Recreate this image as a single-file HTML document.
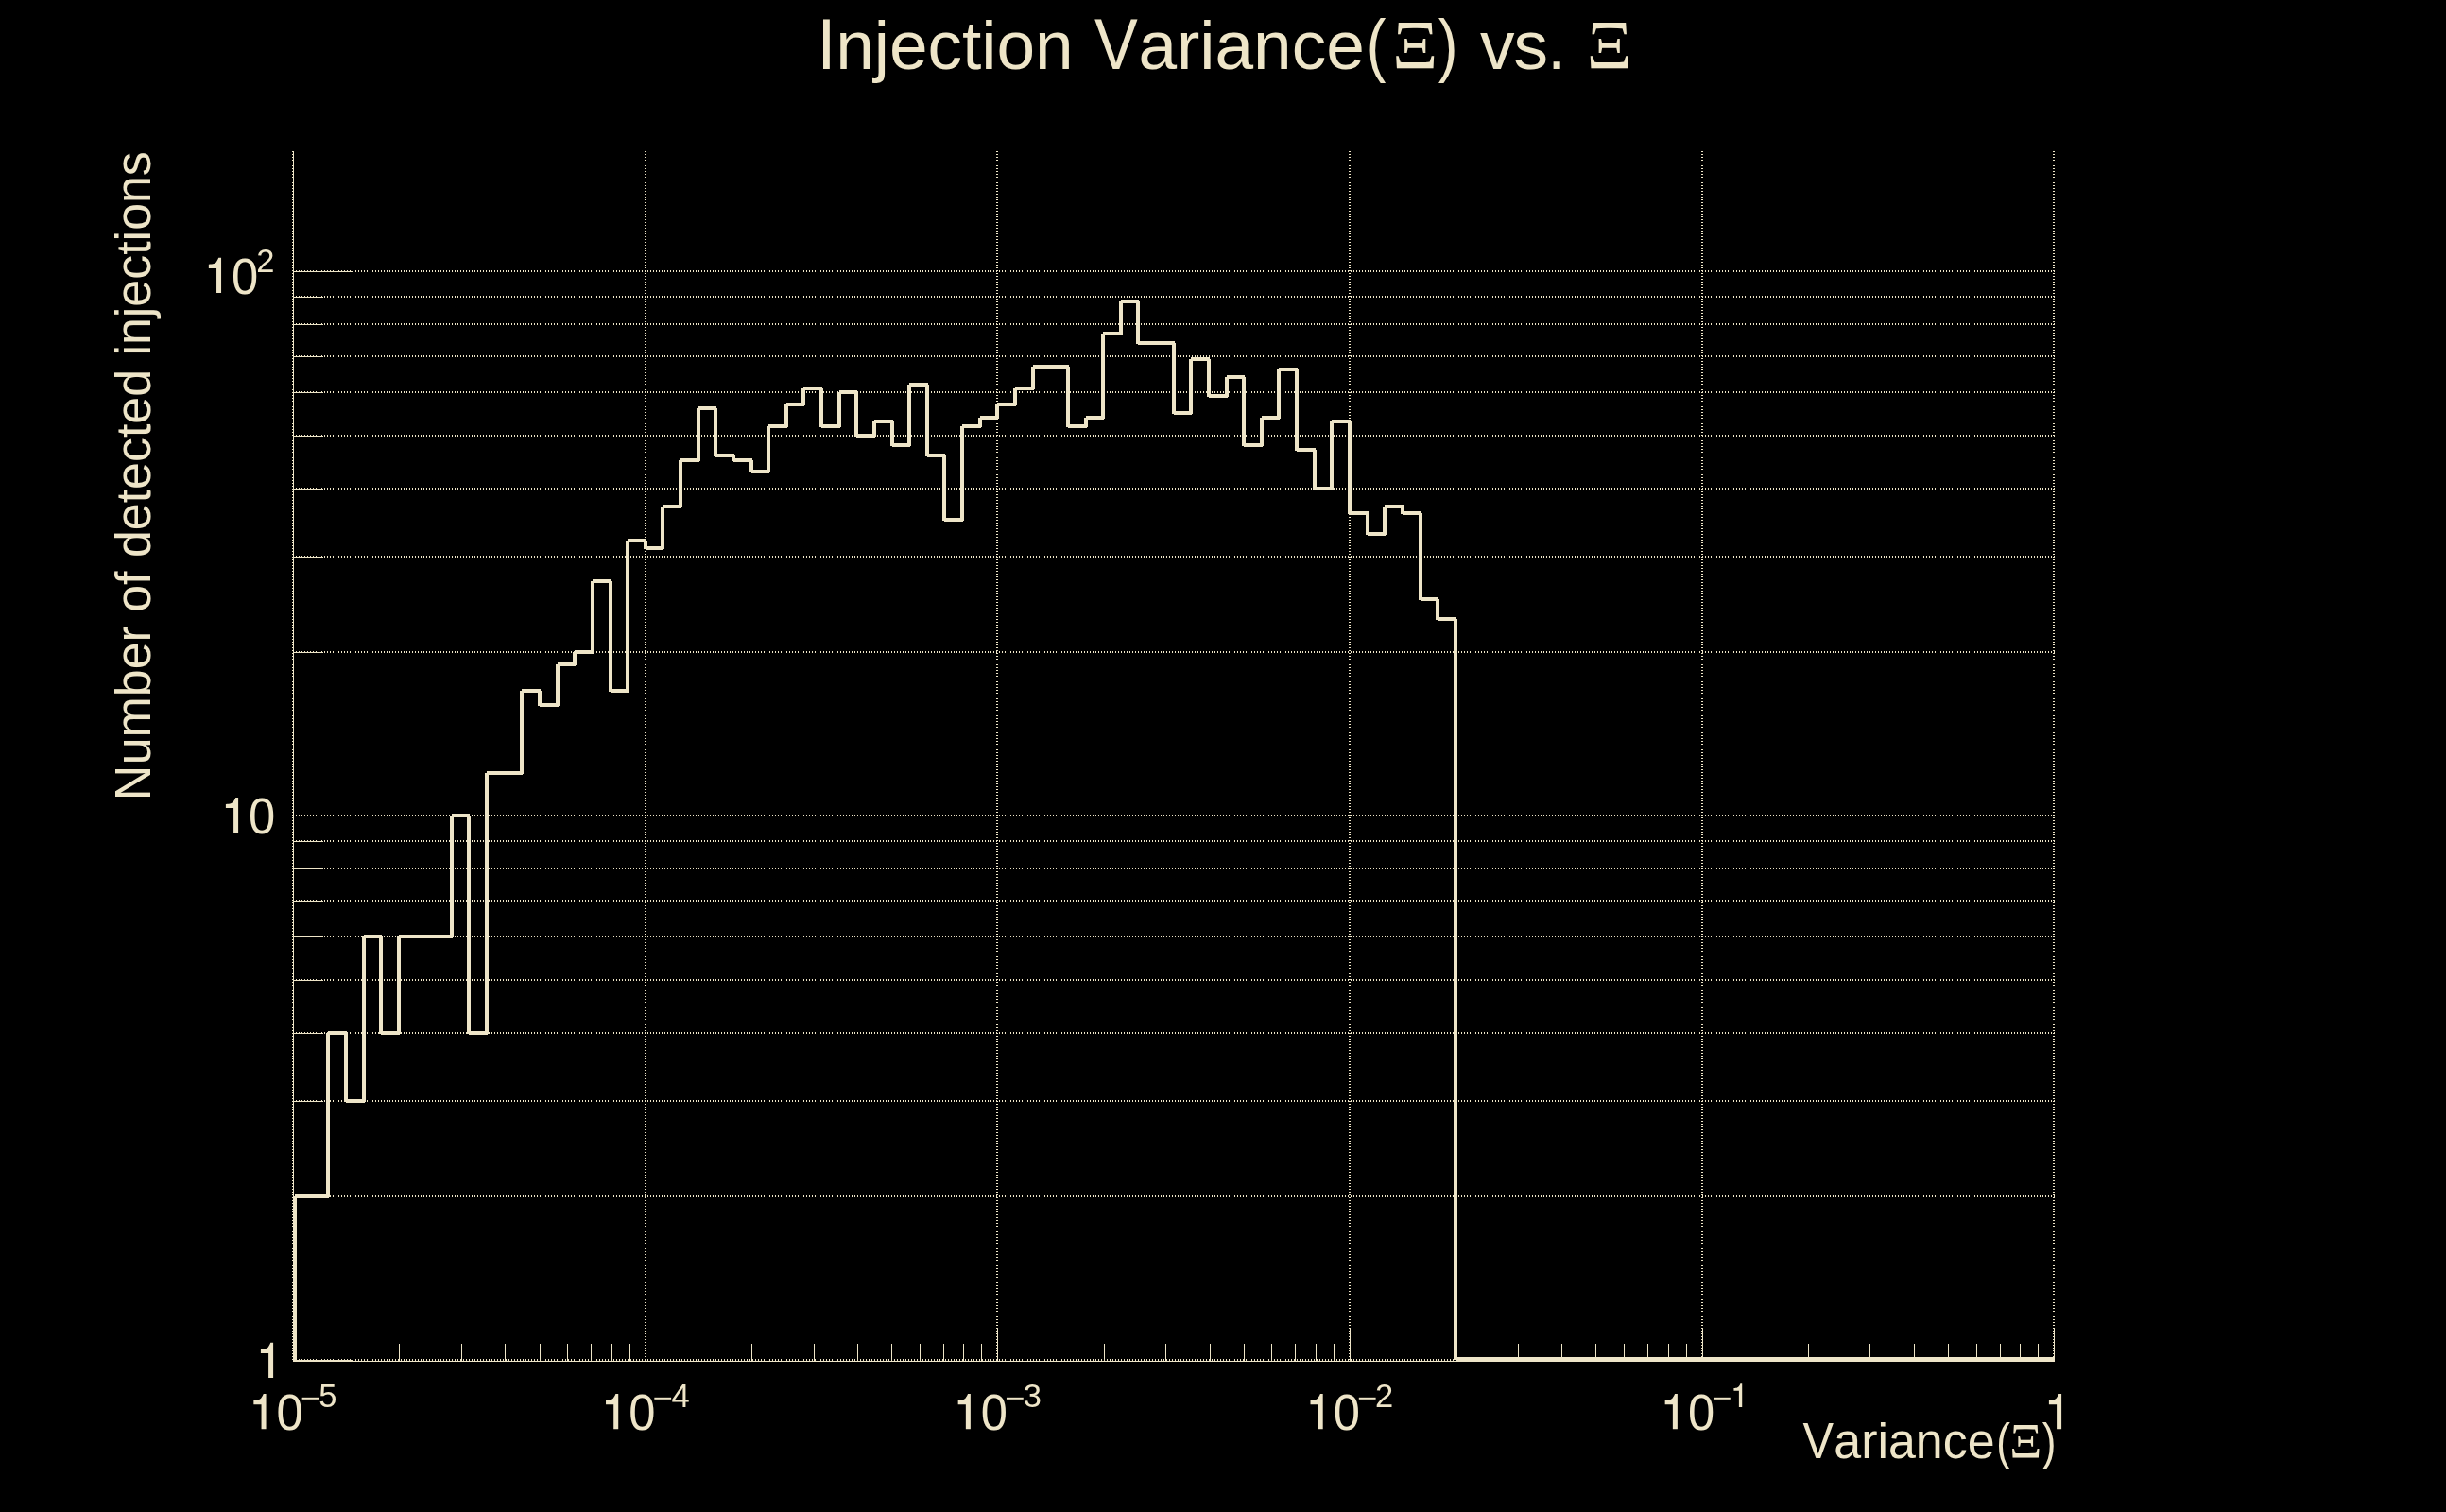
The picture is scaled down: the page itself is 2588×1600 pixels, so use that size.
<!DOCTYPE html><html><head><meta charset="utf-8"><title>Injection Variance</title>
<style>html,body{margin:0;padding:0;background:#000;overflow:hidden}svg{display:block}text{font-kerning:none;font-family:"Liberation Sans",sans-serif;fill:#efe6c9}.g{fill:#efe6c9}.s{font-family:"Liberation Serif",serif}</style></head><body>
<svg width="2588" height="1600" viewBox="0 0 2588 1600">
<rect width="2588" height="1600" fill="#000"/>
<g stroke="#eee5c8" stroke-width="2" stroke-dasharray="1 2" shape-rendering="crispEdges" fill="none">
<line x1="310" y1="1439" x2="2174" y2="1439"/>
<line x1="310" y1="1266" x2="2174" y2="1266"/>
<line x1="310" y1="1165" x2="2174" y2="1165"/>
<line x1="310" y1="1093" x2="2174" y2="1093"/>
<line x1="310" y1="1037" x2="2174" y2="1037"/>
<line x1="310" y1="991" x2="2174" y2="991"/>
<line x1="310" y1="953" x2="2174" y2="953"/>
<line x1="310" y1="919" x2="2174" y2="919"/>
<line x1="310" y1="890" x2="2174" y2="890"/>
<line x1="310" y1="863" x2="2174" y2="863"/>
<line x1="310" y1="690" x2="2174" y2="690"/>
<line x1="310" y1="589" x2="2174" y2="589"/>
<line x1="310" y1="517" x2="2174" y2="517"/>
<line x1="310" y1="461" x2="2174" y2="461"/>
<line x1="310" y1="415" x2="2174" y2="415"/>
<line x1="310" y1="377" x2="2174" y2="377"/>
<line x1="310" y1="343" x2="2174" y2="343"/>
<line x1="310" y1="314" x2="2174" y2="314"/>
<line x1="310" y1="287" x2="2174" y2="287"/>
<line x1="310" y1="160" x2="310" y2="1441"/>
<line x1="683" y1="160" x2="683" y2="1441"/>
<line x1="1055" y1="160" x2="1055" y2="1441"/>
<line x1="1428" y1="160" x2="1428" y2="1441"/>
<line x1="1801" y1="160" x2="1801" y2="1441"/>
<line x1="2173" y1="160" x2="2173" y2="1441"/>
</g>
<g stroke="#eee5c8" stroke-width="1" shape-rendering="crispEdges" fill="none">
<line x1="310.5" y1="160" x2="310.5" y2="1441"/>
<line x1="310" y1="1440.5" x2="2174" y2="1440.5"/>
<line x1="310" y1="1439.5" x2="374" y2="1439.5"/>
<line x1="310" y1="1266.5" x2="342" y2="1266.5"/>
<line x1="310" y1="1165.5" x2="342" y2="1165.5"/>
<line x1="310" y1="1093.5" x2="342" y2="1093.5"/>
<line x1="310" y1="1037.5" x2="342" y2="1037.5"/>
<line x1="310" y1="991.5" x2="342" y2="991.5"/>
<line x1="310" y1="953.5" x2="342" y2="953.5"/>
<line x1="310" y1="919.5" x2="342" y2="919.5"/>
<line x1="310" y1="890.5" x2="342" y2="890.5"/>
<line x1="310" y1="863.5" x2="374" y2="863.5"/>
<line x1="310" y1="690.5" x2="342" y2="690.5"/>
<line x1="310" y1="589.5" x2="342" y2="589.5"/>
<line x1="310" y1="517.5" x2="342" y2="517.5"/>
<line x1="310" y1="461.5" x2="342" y2="461.5"/>
<line x1="310" y1="415.5" x2="342" y2="415.5"/>
<line x1="310" y1="377.5" x2="342" y2="377.5"/>
<line x1="310" y1="343.5" x2="342" y2="343.5"/>
<line x1="310" y1="314.5" x2="342" y2="314.5"/>
<line x1="310" y1="287.5" x2="374" y2="287.5"/>
<line x1="310.5" y1="1405" x2="310.5" y2="1441"/>
<line x1="422.5" y1="1422" x2="422.5" y2="1441"/>
<line x1="488.5" y1="1422" x2="488.5" y2="1441"/>
<line x1="534.5" y1="1422" x2="534.5" y2="1441"/>
<line x1="571.5" y1="1422" x2="571.5" y2="1441"/>
<line x1="600.5" y1="1422" x2="600.5" y2="1441"/>
<line x1="625.5" y1="1422" x2="625.5" y2="1441"/>
<line x1="647.5" y1="1422" x2="647.5" y2="1441"/>
<line x1="666.5" y1="1422" x2="666.5" y2="1441"/>
<line x1="683.5" y1="1405" x2="683.5" y2="1441"/>
<line x1="795.5" y1="1422" x2="795.5" y2="1441"/>
<line x1="861.5" y1="1422" x2="861.5" y2="1441"/>
<line x1="907.5" y1="1422" x2="907.5" y2="1441"/>
<line x1="943.5" y1="1422" x2="943.5" y2="1441"/>
<line x1="973.5" y1="1422" x2="973.5" y2="1441"/>
<line x1="998.5" y1="1422" x2="998.5" y2="1441"/>
<line x1="1019.5" y1="1422" x2="1019.5" y2="1441"/>
<line x1="1038.5" y1="1422" x2="1038.5" y2="1441"/>
<line x1="1055.5" y1="1405" x2="1055.5" y2="1441"/>
<line x1="1168.5" y1="1422" x2="1168.5" y2="1441"/>
<line x1="1233.5" y1="1422" x2="1233.5" y2="1441"/>
<line x1="1280.5" y1="1422" x2="1280.5" y2="1441"/>
<line x1="1316.5" y1="1422" x2="1316.5" y2="1441"/>
<line x1="1345.5" y1="1422" x2="1345.5" y2="1441"/>
<line x1="1370.5" y1="1422" x2="1370.5" y2="1441"/>
<line x1="1392.5" y1="1422" x2="1392.5" y2="1441"/>
<line x1="1411.5" y1="1422" x2="1411.5" y2="1441"/>
<line x1="1428.5" y1="1405" x2="1428.5" y2="1441"/>
<line x1="1540.5" y1="1422" x2="1540.5" y2="1441"/>
<line x1="1606.5" y1="1422" x2="1606.5" y2="1441"/>
<line x1="1652.5" y1="1422" x2="1652.5" y2="1441"/>
<line x1="1688.5" y1="1422" x2="1688.5" y2="1441"/>
<line x1="1718.5" y1="1422" x2="1718.5" y2="1441"/>
<line x1="1743.5" y1="1422" x2="1743.5" y2="1441"/>
<line x1="1765.5" y1="1422" x2="1765.5" y2="1441"/>
<line x1="1784.5" y1="1422" x2="1784.5" y2="1441"/>
<line x1="1801.5" y1="1405" x2="1801.5" y2="1441"/>
<line x1="1913.5" y1="1422" x2="1913.5" y2="1441"/>
<line x1="1978.5" y1="1422" x2="1978.5" y2="1441"/>
<line x1="2025.5" y1="1422" x2="2025.5" y2="1441"/>
<line x1="2061.5" y1="1422" x2="2061.5" y2="1441"/>
<line x1="2091.5" y1="1422" x2="2091.5" y2="1441"/>
<line x1="2116.5" y1="1422" x2="2116.5" y2="1441"/>
<line x1="2137.5" y1="1422" x2="2137.5" y2="1441"/>
<line x1="2156.5" y1="1422" x2="2156.5" y2="1441"/>
<line x1="2173.5" y1="1405" x2="2173.5" y2="1441"/>
</g>
<path d="M312,1441V1266M312,1266H330M329,1266V1267M329,1266H348M347,1093V1267M347,1093H367M366,1093V1166M366,1165H386M385,991V1166M385,991H404M403,991V1094M403,1093H423M422,991V1094M422,991H442M441,991V992M441,991H460M459,991V992M459,991H479M478,863V992M478,863H497M496,863V1094M496,1093H516M515,818V1094M515,818H535M534,818V819M534,818H553M552,731V819M552,731H572M571,731V747M571,746H591M590,703V747M590,703H609M608,690V704M608,690H628M627,615V691M627,615H647M646,615V732M646,731H665M664,572V732M664,572H684M683,572V581M683,580H702M701,536V581M701,536H721M720,487V537M720,487H740M739,432V488M739,432H758M757,432V483M757,482H777M776,482V488M776,487H796M795,487V500M795,499H814M813,451V500M813,451H833M832,428V452M832,428H851M850,411V429M850,411H870M869,411V452M869,451H889M888,415V452M888,415H907M906,415V462M906,461H926M925,446V462M925,446H945M944,446V472M944,471H963M962,407V472M962,407H982M981,407V483M981,482H1000M999,482V551M999,550H1019M1018,451V551M1018,451H1038M1037,442V452M1037,442H1056M1055,428V443M1055,428H1075M1074,411V429M1074,411H1094M1093,388V412M1093,388H1112M1111,388V389M1111,388H1131M1130,388V452M1130,451H1150M1149,442V452M1149,442H1168M1167,353V443M1167,353H1187M1186,319V354M1186,319H1205M1204,319V364M1204,363H1224M1223,363V364M1223,363H1243M1242,363V438M1242,437H1261M1260,380V438M1260,380H1280M1279,380V420M1279,419H1299M1298,399V420M1298,399H1317M1316,399V472M1316,471H1336M1335,442V472M1335,442H1354M1353,391V443M1353,391H1373M1372,391V477M1372,476H1392M1391,476V518M1391,517H1410M1409,446V518M1409,446H1429M1428,446V544M1428,543H1448M1447,543V566M1447,565H1466M1465,536V566M1465,536H1485M1484,536V544M1484,543H1504M1503,543V635M1503,634H1522M1521,634V656M1521,655H1541M1540,655V1439M1540,1438H2174" stroke="#eee5c8" stroke-width="4" fill="none" shape-rendering="crispEdges"/>
<g opacity="0.999">
<text transform="translate(864.26,73.00) scale(1.0000,1.0500)" font-size="73.00">I</text>
<text transform="translate(884.15,73.00) scale(1.0000,0.9950)" font-size="73.00">njection</text>
<text transform="translate(1157.90,73.00) scale(0.9400,1.0500)" font-size="73.00">V</text>
<text transform="translate(1204.40,73.00) scale(1.0000,0.9950)" font-size="73.00">ariance</text>
<text transform="translate(1445.85,73.40) scale(0.8500,1.0250)" font-size="73.00">(</text>
<text class="s" transform="translate(1473.29,73.00)" font-size="74.60">&#926;</text>
<text transform="translate(1521.84,73.40) scale(0.8500,1.0250)" font-size="73.00">)</text>
<text transform="translate(1565.95,73.00) scale(1.0000,0.9950)" font-size="73.00" letter-spacing="-1.00">vs.</text>
<text class="s" transform="translate(1678.69,73.00)" font-size="74.60">&#926;</text>
<g transform="translate(159.00,0) rotate(-90)">
<text transform="translate(-847.31,0.00) scale(1.0000,1.0500)" font-size="51.90">N</text>
<text transform="translate(-809.27,0.00) scale(1.0000,0.9950)" font-size="51.90">umber of detected injections</text>
</g>
<text transform="translate(1907.59,1543.20) scale(0.9400,1.0500)" font-size="51.90">V</text>
<text transform="translate(1940.30,1543.20) scale(1.0000,0.9950)" font-size="51.90">ariance</text>
<text transform="translate(2112.26,1543.50) scale(0.8500,1.0250)" font-size="51.90">(</text>
<text class="s" transform="translate(2126.36,1543.20)" font-size="52.90">&#926;</text>
<text transform="translate(2160.64,1543.50) scale(0.8500,1.0250)" font-size="51.90">)</text>
<path class="g" transform="translate(220.85,310.00) scale(1.0000)" d="M8.2,0V-26H0V-30.2C2.5,-30.3 4.2,-30.5 5.25,-30.9C6.8,-31.5 7.6,-32.2 8.2,-33.1C9.2,-34.4 9.9,-35.8 10.4,-37.2H13.2V0Z"/>
<text transform="translate(244.92,310.60) scale(1.0000,1.0750)" font-size="50.70">0</text>
<text transform="translate(271.36,288.00) scale(1.0000,1.0400)" font-size="34.50">2</text>
<path class="g" transform="translate(238.90,881.10) scale(1.0000)" d="M8.2,0V-26H0V-30.2C2.5,-30.3 4.2,-30.5 5.25,-30.9C6.8,-31.5 7.6,-32.2 8.2,-33.1C9.2,-34.4 9.9,-35.8 10.4,-37.2H13.2V0Z"/>
<text transform="translate(262.92,881.70) scale(1.0000,1.0750)" font-size="50.70">0</text>
<path class="g" transform="translate(275.90,1458.00) scale(1.0000)" d="M8.2,0V-26H0V-30.2C2.5,-30.3 4.2,-30.5 5.25,-30.9C6.8,-31.5 7.6,-32.2 8.2,-33.1C9.2,-34.4 9.9,-35.8 10.4,-37.2H13.2V0Z"/>
<path class="g" transform="translate(268.35,1512.20) scale(1.0000)" d="M8.2,0V-26H0V-30.2C2.5,-30.3 4.2,-30.5 5.25,-30.9C6.8,-31.5 7.6,-32.2 8.2,-33.1C9.2,-34.4 9.9,-35.8 10.4,-37.2H13.2V0Z"/>
<text transform="translate(292.57,1512.80) scale(1.0000,1.0750)" font-size="50.70">0</text>
<rect class="g" x="319.65" y="1478.8" width="17.8" height="2.0"/>
<text transform="translate(337.37,1489.10) scale(1.0000,1.0400)" font-size="34.50">5</text>
<path class="g" transform="translate(641.03,1512.20) scale(1.0000)" d="M8.2,0V-26H0V-30.2C2.5,-30.3 4.2,-30.5 5.25,-30.9C6.8,-31.5 7.6,-32.2 8.2,-33.1C9.2,-34.4 9.9,-35.8 10.4,-37.2H13.2V0Z"/>
<text transform="translate(665.25,1512.80) scale(1.0000,1.0750)" font-size="50.70">0</text>
<rect class="g" x="692.33" y="1478.8" width="17.8" height="2.0"/>
<text transform="translate(710.40,1489.10) scale(1.0000,1.0400)" font-size="34.50">4</text>
<path class="g" transform="translate(1013.65,1512.20) scale(1.0000)" d="M8.2,0V-26H0V-30.2C2.5,-30.3 4.2,-30.5 5.25,-30.9C6.8,-31.5 7.6,-32.2 8.2,-33.1C9.2,-34.4 9.9,-35.8 10.4,-37.2H13.2V0Z"/>
<text transform="translate(1037.87,1512.80) scale(1.0000,1.0750)" font-size="50.70">0</text>
<rect class="g" x="1064.95" y="1478.8" width="17.8" height="2.0"/>
<text transform="translate(1082.80,1489.10) scale(1.0000,1.0400)" font-size="34.50">3</text>
<path class="g" transform="translate(1386.50,1512.20) scale(1.0000)" d="M8.2,0V-26H0V-30.2C2.5,-30.3 4.2,-30.5 5.25,-30.9C6.8,-31.5 7.6,-32.2 8.2,-33.1C9.2,-34.4 9.9,-35.8 10.4,-37.2H13.2V0Z"/>
<text transform="translate(1410.72,1512.80) scale(1.0000,1.0750)" font-size="50.70">0</text>
<rect class="g" x="1437.80" y="1478.8" width="17.8" height="2.0"/>
<text transform="translate(1454.97,1489.10) scale(1.0000,1.0400)" font-size="34.50">2</text>
<path class="g" transform="translate(1761.66,1512.20) scale(1.0000)" d="M8.2,0V-26H0V-30.2C2.5,-30.3 4.2,-30.5 5.25,-30.9C6.8,-31.5 7.6,-32.2 8.2,-33.1C9.2,-34.4 9.9,-35.8 10.4,-37.2H13.2V0Z"/>
<text transform="translate(1785.88,1512.80) scale(1.0000,1.0750)" font-size="50.70">0</text>
<rect class="g" x="1812.96" y="1478.8" width="17.8" height="2.0"/>
<path class="g" transform="translate(1834.44,1489.10) scale(0.6650)" d="M8.2,0V-26H0V-30.2C2.5,-30.3 4.2,-30.5 5.25,-30.9C6.8,-31.5 7.6,-32.2 8.2,-33.1C9.2,-34.4 9.9,-35.8 10.4,-37.2H13.2V0Z"/>
<path class="g" transform="translate(2167.90,1512.20) scale(1.0000)" d="M8.2,0V-26H0V-30.2C2.5,-30.3 4.2,-30.5 5.25,-30.9C6.8,-31.5 7.6,-32.2 8.2,-33.1C9.2,-34.4 9.9,-35.8 10.4,-37.2H13.2V0Z"/>
</g>
</svg></body></html>
